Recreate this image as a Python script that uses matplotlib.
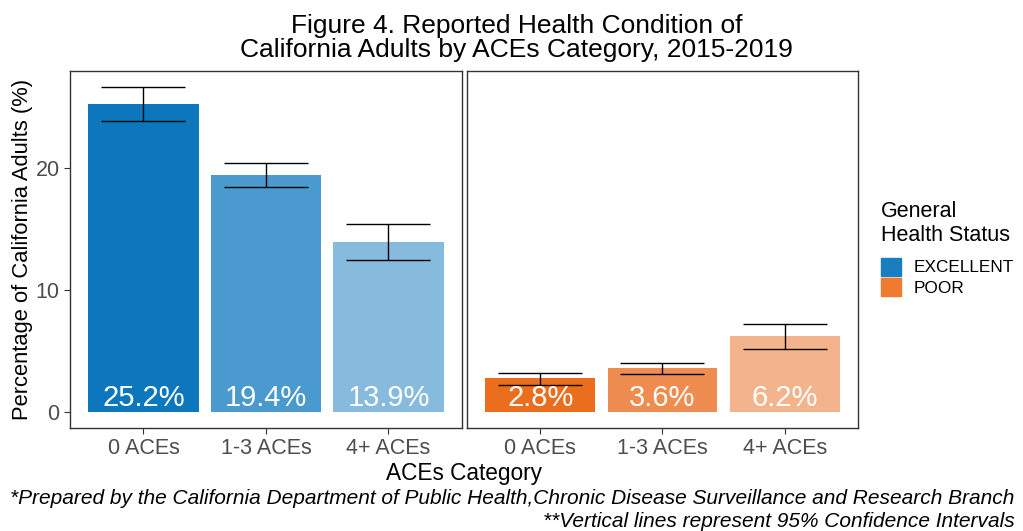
import numpy as np
import matplotlib
matplotlib.use("Agg")
import matplotlib.pyplot as plt
from matplotlib.patches import Patch

plt.rcParams["font.family"] = ["Liberation Sans", "DejaVu Sans"]

CATEGORIES = ["0 ACEs", "1-3 ACEs", "4+ ACEs"]
EXCELLENT = [25.2, 19.4, 13.9]
EXCELLENT_LO = [23.8, 18.4, 12.4]
EXCELLENT_HI = [26.6, 20.4, 15.4]
POOR = [2.8, 3.6, 6.2]
POOR_LO = [2.2, 3.1, 5.2]
POOR_HI = [3.2, 4.0, 7.2]

BLUES = ["#0C77BC", "#4A99CF", "#86BBDD"]
ORANGES = ["#EB6E1F", "#EF8C50", "#F3B48D"]
TICK_GRAY = "#4D4D4D"

fig = plt.figure(figsize=(10.23, 5.31), dpi=100)
ax1 = fig.add_axes([0.0684, 0.194, 0.3832, 0.6723])
ax2 = fig.add_axes([0.4565, 0.194, 0.3822, 0.6723])

x = np.arange(len(CATEGORIES))
for ax, vals, lo, hi, cols in [(ax1, EXCELLENT, EXCELLENT_LO, EXCELLENT_HI, BLUES),
                               (ax2, POOR, POOR_LO, POOR_HI, ORANGES)]:
    ax.bar(x, vals, width=0.9, color=cols, zorder=2)
    vals = np.array(vals)
    yerr = [vals - np.array(lo), np.array(hi) - vals]
    ax.errorbar(x, vals, yerr=yerr, fmt="none", ecolor="black", elinewidth=1.0,
                capsize=30, capthick=1.0, zorder=3)
    for xi, v in zip(x, vals):
        ax.text(xi, 0.0, f"{v:.1f}%", ha="center", va="bottom", color="white",
                fontsize=21, zorder=4)
    ax.set_xlim(-0.6, 2.6)
    ax.set_ylim(-1.3, 27.9)
    ax.set_xticks(x, CATEGORIES)
    ax.tick_params(axis="x", colors=TICK_GRAY, labelsize=15.5, length=4, pad=3)
    ax.tick_params(axis="x", color="#333333")
    for s in ax.spines.values():
        s.set_color("#333333")
        s.set_linewidth(1.0)

ax1.set_yticks([0, 10, 20])
ax1.tick_params(axis="y", colors=TICK_GRAY, labelsize=15.5, length=4, color="#333333")
ax2.set_yticks([])

ax1.set_ylabel("Percentage of California Adults (%)", fontsize=15.8, labelpad=2)

fig.text(0.4535, 0.108, "ACEs Category", ha="center", va="center", fontsize=16.3)
fig.text(0.505, 0.928, "Figure 4. Reported Health Condition of\nCalifornia Adults by ACEs Category, 2015-2019",
         ha="center", va="center", fontsize=19, linespacing=1.0)
fig.text(0.992, 0.062, "*Prepared by the California Department of Public Health,Chronic Disease Surveillance and Research Branch",
         ha="right", va="center", fontsize=15, style="italic")
fig.text(0.992, 0.018, "**Vertical lines represent 95% Confidence Intervals",
         ha="right", va="center", fontsize=15, style="italic")

handles = [Patch(color="#1A7DC0", label="EXCELLENT"), Patch(color="#EE7B30", label="POOR")]
leg = fig.legend(handles=handles, title="General\nHealth Status", loc="upper left",
                 bbox_to_anchor=(0.854, 0.634), frameon=False, fontsize=12.4,
                 title_fontsize=15.5, handlelength=1.16, handleheight=1.25,
                 handletextpad=0.75, labelspacing=0.12, borderaxespad=0.0)
leg._legend_box.align = "left"
leg._legend_box.sep = 8

fig.savefig("out.png", dpi=100)
